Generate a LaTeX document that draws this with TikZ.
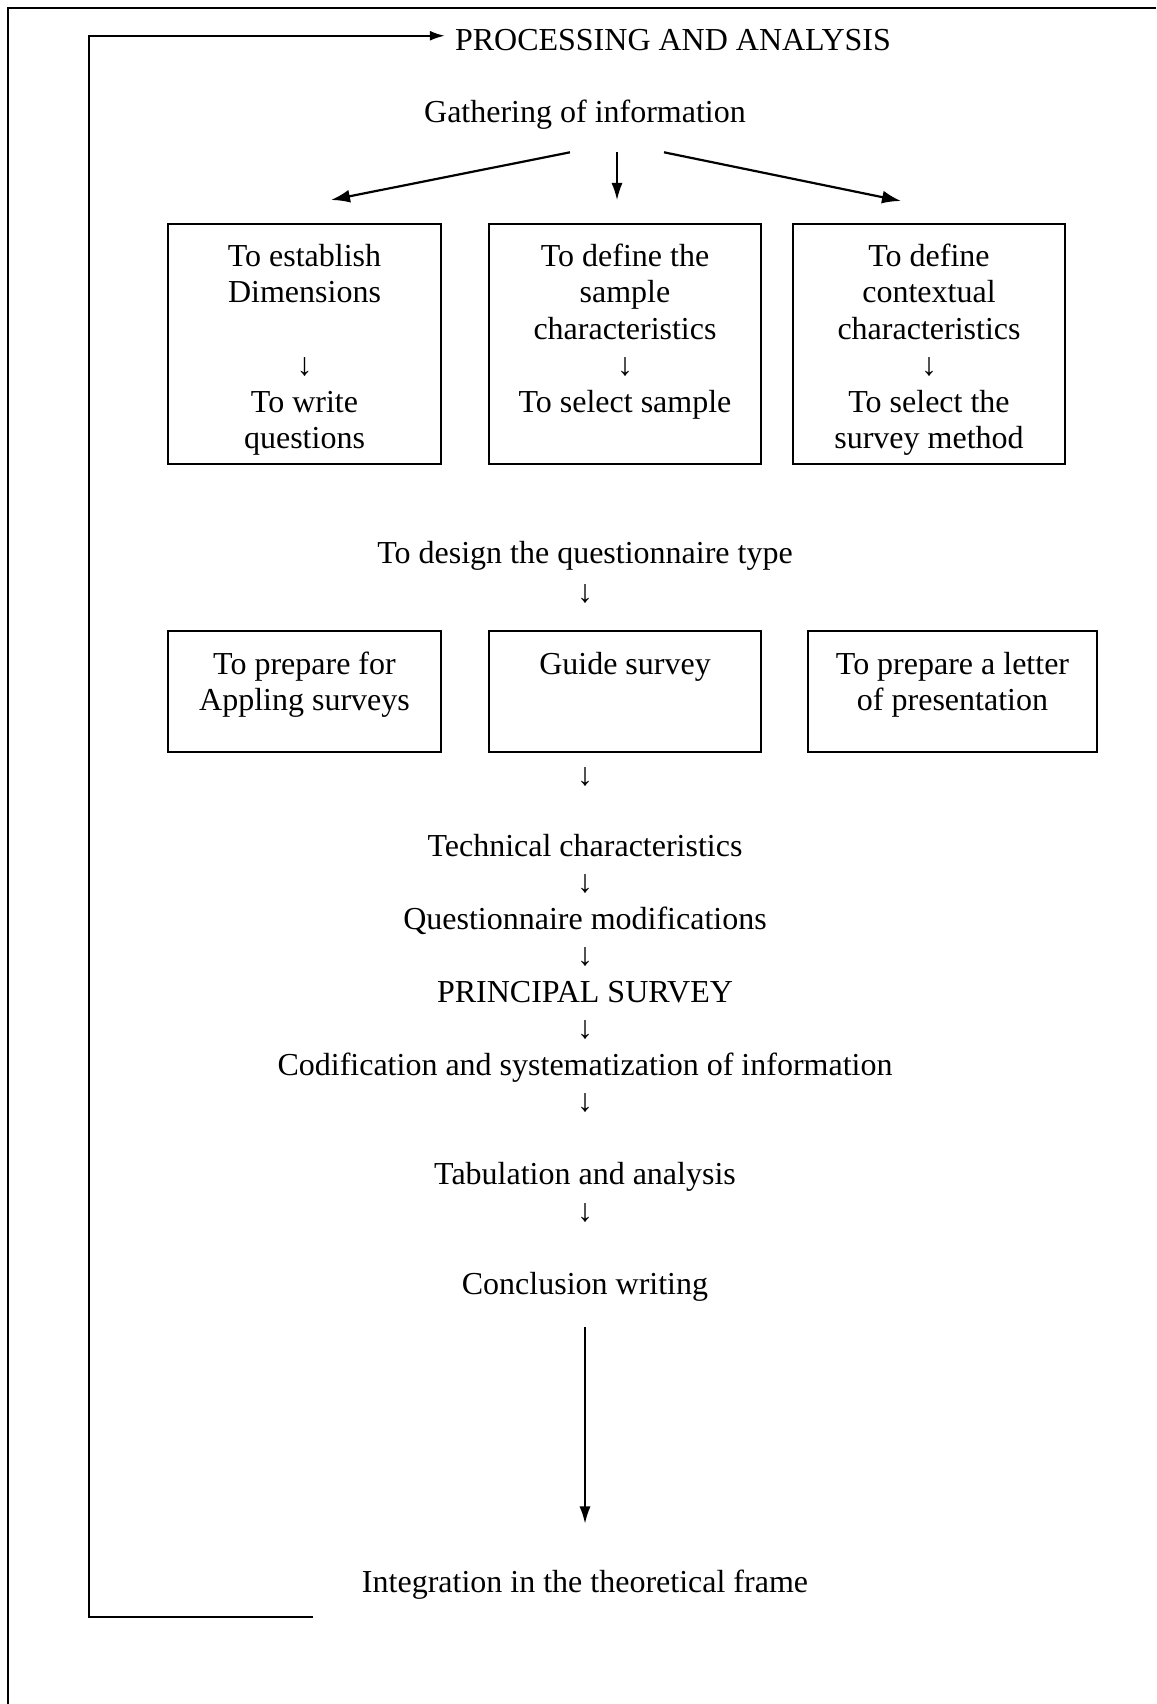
\documentclass[tikz,border=0pt]{standalone}
\usepackage{fontspec}
\setmainfont{Liberation Serif}
\usetikzlibrary{arrows.meta}
\begin{document}
\begin{tikzpicture}[x=1pt,y=-1pt,
  txt/.style={anchor=base, inner sep=0pt, yshift=-2.2pt, font=\fontsize{32}{36.5}\selectfont},
  stepbox/.style={draw, line width=1.6pt, inner sep=0pt},
  arr/.style={line width=1.5pt, -{Latex[length=17pt,width=11pt]}},
  diag/.style={line width=2.2pt, -{Latex[length=19pt,width=13pt]}},
  feed/.style={line width=2pt, -{Latex[length=15pt,width=10pt]}},
  frame/.style={line width=2.2pt}]
\useasboundingbox (0,0) rectangle (1156,1704);

% page frame (top and left edges)
\draw[frame] (8,1704) -- (8,8) -- (1156,8);

% header and first step
\node[txt, inner xsep=10pt] (proc) at (673,48) {PROCESSING AND ANALYSIS};
\node[txt] (gath) at (585,120) {Gathering of information};

% branches from the first step
\coordinate (g1) at (331,200);
\coordinate (g2) at (617,200);
\coordinate (g3) at (901,201);
\draw[diag] ([shift={(-15pt,-23pt)}]gath.south) -- (g1);
\draw[arr]  ([shift={(32pt,-23pt)}]gath.south) -- (g2);
\draw[diag] ([shift={(79pt,-23pt)}]gath.south) -- (g3);

% first row of boxes
\node[stepbox, minimum width=273pt, minimum height=240pt] (b1) at (304.5,344) {};
\node[stepbox, minimum width=272pt, minimum height=240pt] (b2) at (625,344) {};
\node[stepbox, minimum width=272pt, minimum height=240pt] (b3) at (929,344) {};

\node[txt] (b1a) at (304.5,264) {To establish};
\node[txt] (b1b) at (304.5,300.5) {Dimensions};
\node[txt] (b1c) at (304.5,373.5) {↓};
\node[txt] (b1d) at (304.5,410) {To write};
\node[txt] (b1e) at (304.5,446.5) {questions};

\node[txt] (b2a) at (625,264) {To define the};
\node[txt] (b2b) at (625,300.5) {sample};
\node[txt] (b2c) at (625,337) {characteristics};
\node[txt] (b2d) at (625,373.5) {↓};
\node[txt] (b2e) at (625,410) {To select sample};

\node[txt] (b3a) at (929,264) {To define};
\node[txt] (b3b) at (929,300.5) {contextual};
\node[txt] (b3c) at (929,337) {characteristics};
\node[txt] (b3d) at (929,373.5) {↓};
\node[txt] (b3e) at (929,410) {To select the};
\node[txt] (b3f) at (929,446.5) {survey method};

% questionnaire design
\node[txt] (design) at (585,561) {To design the questionnaire type};
\node[txt] (d1) at (585,600) {↓};

% second row of boxes
\node[stepbox, minimum width=273pt, minimum height=121pt] (c1) at (304.5,691.5) {};
\node[stepbox, minimum width=272pt, minimum height=121pt] (c2) at (625,691.5) {};
\node[stepbox, minimum width=289pt, minimum height=121pt] (c3) at (952.5,691.5) {};

\node[txt] (c1a) at (304.5,672) {To prepare for};
\node[txt] (c1b) at (304.5,708.5) {Appling surveys};
\node[txt] (c2a) at (625,672) {Guide survey};
\node[txt] (c3a) at (952.5,672) {To prepare a letter};
\node[txt] (c3b) at (952.5,708.5) {of presentation};

% main column
\node[txt] (d2) at (585,783) {↓};
\node[txt] (tech) at (585,854) {Technical characteristics};
\node[txt] (d3) at (585,890.5) {↓};
\node[txt] (quest) at (585,927) {Questionnaire modifications};
\node[txt] (d4) at (585,963.5) {↓};
\node[txt] (princ) at (585,1000) {PRINCIPAL SURVEY};
\node[txt] (d5) at (585,1036.5) {↓};
\node[txt] (cod) at (585,1073) {Codification and systematization of information};
\node[txt] (d6) at (585,1109.5) {↓};
\node[txt] (tab) at (585,1182.5) {Tabulation and analysis};
\node[txt] (d7) at (585,1219) {↓};
\node[txt] (concl) at (585,1292) {Conclusion writing};
\node[txt] (integ) at (585,1590) {Integration in the theoretical frame};

\draw[arr] ([yshift=-26pt]concl.south) -- ([yshift=46pt]integ.north);

% feedback loop back to the header
\coordinate (fbend) at (313,1617);
\coordinate (fbcorner) at (89,1617);
\draw[feed] (fbend) -- (fbcorner) |- ([yshift=4pt]proc.west);
\end{tikzpicture}
\end{document}
